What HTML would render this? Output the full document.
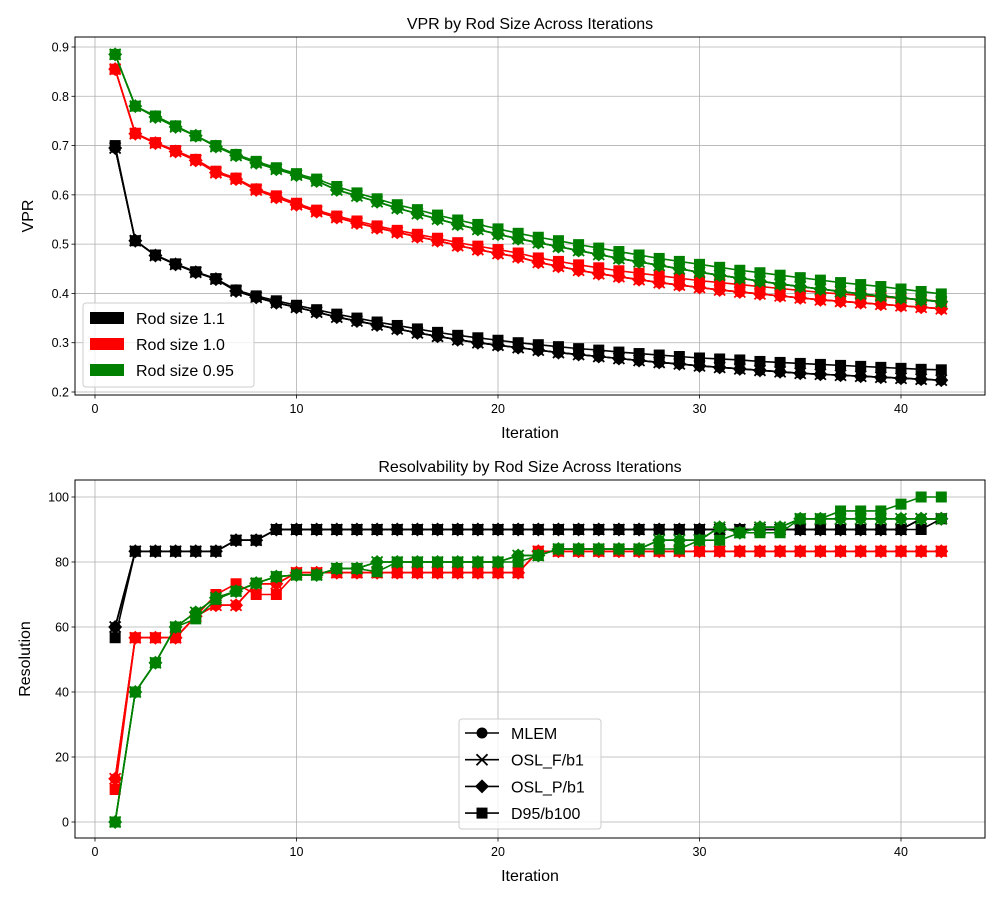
<!DOCTYPE html>
<html><head><meta charset="utf-8"><style>
body{margin:0;background:#fff;}
svg{display:block;font-family:"Liberation Sans","DejaVu Sans",sans-serif;}
</style></head><body>
<svg id="chart" width="1000" height="900" viewBox="0 0 1000 900" xmlns="http://www.w3.org/2000/svg">
<rect x="0" y="0" width="1000" height="900" fill="#fff"/>
</svg>
<script>
const iterations = [1,2,3,4,5,6,7,8,9,10,11,12,13,14,15,16,17,18,19,20,21,22,23,24,25,26,27,28,29,30,31,32,33,34,35,36,37,38,39,40,41,42];
const vprTicks = [0.2,0.3,0.4,0.5,0.6,0.7,0.8,0.9];
const vprTickLabels = ["0.2","0.3","0.4","0.5","0.6","0.7","0.8","0.9"];
const resTicks = [0,20,40,60,80,100];
const resTickLabels = ["0","20","40","60","80","100"];
const xTicks = [0,10,20,30,40];
const xTickLabels = ["0","10","20","30","40"];

const vprBlack = [0.695,0.507,0.477,0.459,0.443,0.429,0.405,0.392,0.381,0.372,0.362,0.352,0.344,0.336,0.328,0.320,0.313,0.306,0.300,0.295,0.290,0.285,0.280,0.276,0.272,0.268,0.264,0.260,0.257,0.253,0.250,0.247,0.244,0.241,0.238,0.236,0.234,0.232,0.230,0.228,0.226,0.224];
const vprBlackD95 = [0.700,0.507,0.478,0.460,0.444,0.430,0.407,0.395,0.385,0.376,0.367,0.358,0.350,0.342,0.335,0.328,0.321,0.315,0.310,0.305,0.300,0.296,0.292,0.288,0.285,0.281,0.278,0.275,0.272,0.269,0.267,0.265,0.262,0.260,0.258,0.256,0.254,0.252,0.250,0.248,0.246,0.245];
const vprRed = [0.855,0.724,0.705,0.688,0.670,0.645,0.632,0.610,0.595,0.580,0.566,0.554,0.543,0.533,0.524,0.515,0.507,0.497,0.489,0.481,0.474,0.463,0.455,0.447,0.440,0.434,0.428,0.422,0.417,0.412,0.407,0.403,0.399,0.395,0.391,0.387,0.384,0.381,0.378,0.375,0.372,0.369];
const vprRedD95 = [0.855,0.725,0.706,0.690,0.672,0.648,0.634,0.612,0.598,0.583,0.569,0.557,0.547,0.537,0.528,0.520,0.512,0.503,0.496,0.489,0.482,0.472,0.465,0.458,0.452,0.446,0.441,0.436,0.431,0.426,0.422,0.418,0.414,0.410,0.406,0.402,0.399,0.396,0.393,0.390,0.387,0.384];
const vprGreen = [0.885,0.780,0.758,0.738,0.720,0.698,0.680,0.665,0.652,0.640,0.628,0.610,0.598,0.586,0.573,0.562,0.551,0.540,0.530,0.520,0.511,0.503,0.495,0.487,0.479,0.471,0.464,0.457,0.450,0.443,0.437,0.431,0.425,0.419,0.414,0.409,0.404,0.399,0.395,0.391,0.387,0.383];
const vprGreenD95 = [0.885,0.780,0.760,0.740,0.720,0.700,0.682,0.668,0.655,0.643,0.632,0.617,0.604,0.592,0.580,0.570,0.559,0.549,0.540,0.531,0.522,0.514,0.507,0.499,0.492,0.485,0.478,0.471,0.465,0.459,0.453,0.447,0.442,0.437,0.432,0.427,0.422,0.418,0.414,0.409,0.404,0.399];

const resBlack = [60,83.3,83.3,83.3,83.3,83.3,86.7,86.7,90,90,90,90,90,90,90,90,90,90,90,90,90,90,90,90,90,90,90,90,90,90,90,90,90,90,90,90,90,90,90,90,93.3,93.3];
const resBlackD95 = [56.7,83.3,83.3,83.3,83.3,83.3,86.7,86.7,90,90,90,90,90,90,90,90,90,90,90,90,90,90,90,90,90,90,90,90,90,90,90,90,90,90,90,90,90,90,90,90,90,93.3];
const resRed = [13.3,56.7,56.7,56.7,63.3,66.7,66.7,73.3,73.3,76.7,76.7,76.7,76.7,76.7,76.7,76.7,76.7,76.7,76.7,76.7,76.7,83.3,83.3,83.3,83.3,83.3,83.3,83.3,83.3,83.3,83.3,83.3,83.3,83.3,83.3,83.3,83.3,83.3,83.3,83.3,83.3,83.3];
const resRedD95 = [10,56.7,56.7,56.7,63.3,70,73.3,70,70,76.7,76.7,76.7,76.7,76.7,76.7,76.7,76.7,76.7,76.7,76.7,76.7,83.3,83.3,83.3,83.3,83.3,83.3,83.3,83.3,83.3,83.3,83.3,83.3,83.3,83.3,83.3,83.3,83.3,83.3,83.3,83.3,83.3];
const resGreen = [0,40,49,60,64.5,69,71,73.5,75.5,76,76,78,78,80,80,80,80,80,80,80,82,82,84,84,84,84,84,86.7,86.7,86.7,90.7,89,90.7,90.7,93.3,93.3,93.3,93.3,93.3,93.3,93.3,93.3];
const resGreenD95 = [0,40,49,60,62.5,68.5,71,73.5,75.5,76,76,78,78,77,80,80,80,80,80,80,80,82,84,84,84,84,84,84,84,86.7,86.7,89,89,89,93.3,93.3,95.7,95.7,95.7,97.8,100,100];

const svg = document.getElementById('chart');
const NS = 'http://www.w3.org/2000/svg';
function mk(tag, attrs, parent){
  const e = document.createElementNS(NS, tag);
  for (const k in attrs) e.setAttribute(k, attrs[k]);
  (parent||svg).appendChild(e);
  return e;
}
const X0 = 75, X1 = 985;
function xScale(v){ return 95 + v*20.15; }
const topAx = {y0:37, y1:395, vy:v => 392 - (v-0.2)/0.7*345};
const botAx = {y0:480, y1:838, vy:v => 822 - v*3.25};

function marker(g, kind, x, y, color){
  let m;
  if (kind==='circle') m = mk('circle',{cx:x,cy:y,r:5.5,fill:color},g);
  else if (kind==='square') m = mk('rect',{x:x-5.5,y:y-5.5,width:11,height:11,fill:color},g);
  else if (kind==='diamond') m = mk('polygon',{points:`${x},${y-7} ${x+7},${y} ${x},${y+7} ${x-7},${y}`,fill:color},g);
  else { m = mk('path',{d:`M${x-5.5},${y-5.5}L${x+5.5},${y+5.5}M${x-5.5},${y+5.5}L${x+5.5},${y-5.5}`,stroke:color,'stroke-width':1.8,fill:'none'},g); }
  
  
}

function drawAxes(ax, name, yTicks, yLabels, yScale, title, ylabel){
  const g = mk('g',{});
  
  
  yTicks.forEach((t,i)=>{
    const y = yScale(t);
    mk('line',{x1:X0,x2:X1,y1:y,y2:y,stroke:'#b0b0b0','stroke-width':0.8},g);
    mk('line',{x1:X0-3.5,x2:X0,y1:y,y2:y,stroke:'#000','stroke-width':0.8},g);
    const t2 = mk('text',{x:X0-6,y:y+4.5,'text-anchor':'end','font-size':12.5,fill:'#000'},g);
    t2.textContent = yLabels[i];
    
    
  });
  xTicks.forEach((t,i)=>{
    const x = xScale(t);
    mk('line',{x1:x,x2:x,y1:ax.y0,y2:ax.y1,stroke:'#b0b0b0','stroke-width':0.8},g);
    mk('line',{x1:x,x2:x,y1:ax.y1,y2:ax.y1+3.5,stroke:'#000','stroke-width':0.8},g);
    const t2 = mk('text',{x:x,y:ax.y1+18,'text-anchor':'middle','font-size':12.5,fill:'#000'},g);
    t2.textContent = xTickLabels[i];
    
    
  });
  const tt = mk('text',{x:530,y:ax.y0-8,'text-anchor':'middle','font-size':16,fill:'#000'});
  tt.textContent = title;
  
  
  const xl = mk('text',{x:530,y:ax.y1+43,'text-anchor':'middle','font-size':16,fill:'#000'});
  xl.textContent = 'Iteration';
  
  
  const cy = (ax.y0+ax.y1)/2;
  const yl = mk('text',{x:0,y:0,'text-anchor':'middle','font-size':16,fill:'#000',transform:`translate(${ylabel==='VPR'?33:30},${cy}) rotate(-90)`});
  yl.textContent = ylabel;
  
  
}

function drawSeries(vals, yScale, color, kind, name){
  const g = mk('g',{});
  
  
  const pts = vals.map((v,i)=>`${xScale(iterations[i])},${yScale(v)}`).join(' ');
  mk('polyline',{points:pts,fill:'none',stroke:color,'stroke-width':1.6},g);
  vals.forEach((v,i)=>marker(g, kind, xScale(iterations[i]), yScale(v), color));
}

function frame(ax){
  mk('rect',{x:X0,y:ax.y0,width:X1-X0,height:ax.y1-ax.y0,fill:'none',stroke:'#000','stroke-width':1});
}

drawAxes(topAx,'vpr-axes',vprTicks,vprTickLabels,topAx.vy,'VPR by Rod Size Across Iterations','VPR');
drawAxes(botAx,'resolution-axes',resTicks,resTickLabels,botAx.vy,'Resolvability by Rod Size Across Iterations','Resolution');

const rods = [
  ['black','#000',vprBlack,vprBlackD95,resBlack,resBlackD95],
  ['red','#ff0000',vprRed,vprRedD95,resRed,resRedD95],
  ['green','#008000',vprGreen,vprGreenD95,resGreen,resGreenD95]
];
rods.forEach(r=>{
  drawSeries(r[2],topAx.vy,r[1],'circle',`vpr-${r[0]}-mlem`);
  drawSeries(r[2],topAx.vy,r[1],'x',`vpr-${r[0]}-osl-f`);
  drawSeries(r[2],topAx.vy,r[1],'diamond',`vpr-${r[0]}-osl-p`);
  drawSeries(r[3],topAx.vy,r[1],'square',`vpr-${r[0]}-d95`);
  drawSeries(r[4],botAx.vy,r[1],'circle',`res-${r[0]}-mlem`);
  drawSeries(r[4],botAx.vy,r[1],'x',`res-${r[0]}-osl-f`);
  drawSeries(r[4],botAx.vy,r[1],'diamond',`res-${r[0]}-osl-p`);
  drawSeries(r[5],botAx.vy,r[1],'square',`res-${r[0]}-d95`);
});
frame(topAx); frame(botAx);

const lg = mk('g',{});


mk('rect',{x:83,y:303,width:171,height:84,rx:3,fill:'#fff','fill-opacity':0.8,stroke:'#ccc'},lg);
[['Rod size 1.1','#000'],['Rod size 1.0','#ff0000'],['Rod size 0.95','#008000']].forEach((e,i)=>{
  const y = 318 + i*26;
  const p = mk('rect',{x:90,y:y-6,width:34,height:12,fill:e[1]},lg);
  
  
  const t = mk('text',{x:136,y:y+6,'font-size':16,fill:'#000'},lg);
  t.textContent = e[0];
  
  
});
const lg2 = mk('g',{});


mk('rect',{x:459,y:719,width:142,height:110,rx:3,fill:'#fff','fill-opacity':0.8,stroke:'#ccc'},lg2);
[['MLEM','circle'],['OSL_F/b1','x'],['OSL_P/b1','diamond'],['D95/b100','square']].forEach((e,i)=>{
  const y = 733 + i*26.7;
  mk('line',{x1:465,x2:499,y1:y,y2:y,stroke:'#000','stroke-width':1.6},lg2);
  marker(lg2, e[1], 482, y, '#000');
  const t = mk('text',{x:511,y:y+6,'font-size':16,fill:'#000'},lg2);
  t.textContent = e[0];
  
  
});
</script>
</body></html>
